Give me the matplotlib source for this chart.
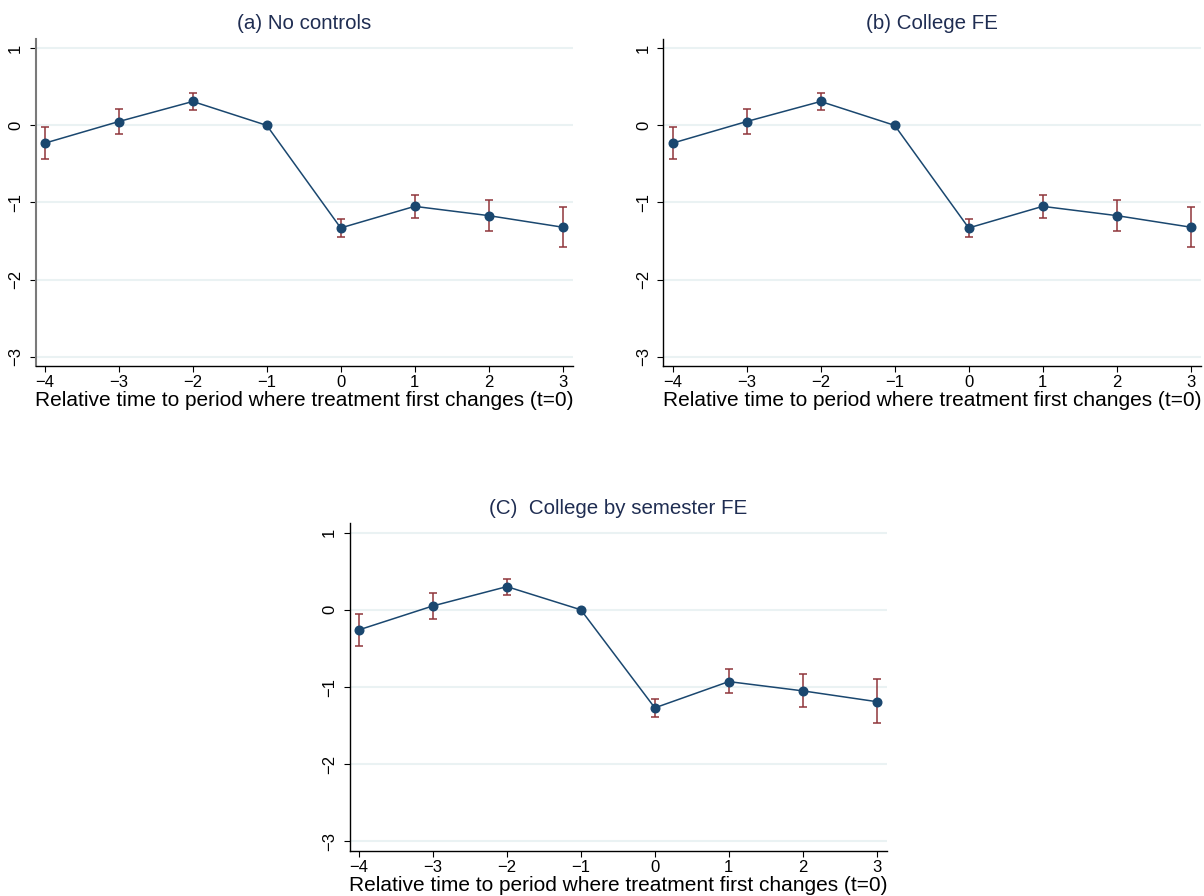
import matplotlib
matplotlib.use("Agg")
import matplotlib.pyplot as plt
import numpy as np

plt.rcParams['font.family'] = ['Liberation Sans', 'DejaVu Sans']

# Data
periods = [-4, -3, -2, -1, 0, 1, 2, 3]
ytick_vals = [1, 0, -1, -2, -3]

titles = ["(a) No controls", "(b) College FE", "(C)  College by semester FE"]
xlabel = "Relative time to period where treatment first changes (t=0)"

coef_a = [-0.23, 0.05, 0.31, 0.00, -1.33, -1.05, -1.17, -1.32]
lo_a   = [-0.44, -0.11, 0.20, 0.00, -1.45, -1.20, -1.37, -1.58]
hi_a   = [-0.02, 0.21, 0.42, 0.00, -1.22, -0.90, -0.97, -1.06]

coef_b = [-0.23, 0.05, 0.31, 0.00, -1.33, -1.05, -1.17, -1.32]
lo_b   = [-0.44, -0.11, 0.20, 0.00, -1.45, -1.20, -1.37, -1.58]
hi_b   = [-0.02, 0.21, 0.42, 0.00, -1.22, -0.90, -0.97, -1.06]

coef_c = [-0.26, 0.05, 0.30, 0.00, -1.27, -0.93, -1.05, -1.19]
lo_c   = [-0.47, -0.12, 0.19, 0.00, -1.39, -1.08, -1.26, -1.46]
hi_c   = [-0.05, 0.22, 0.40, 0.00, -1.15, -0.77, -0.83, -0.90]

W, H = 1204, 896
fig = plt.figure(figsize=(W / 100, H / 100), dpi=100)

NAVY = '#1a476f'
RED = '#90353b'
GRID = '#eaf2f3'
TITLE_C = '#1f2d52'

# axes boxes in pixel coords: left, right, top, bottom
boxes = [
    (35.7, 572.5, 39.0, 366.0),
    (663.4, 1200.7, 39.0, 366.0),
    (349.7, 886.7, 523.3, 850.7),
]
datasets = [(coef_a, lo_a, hi_a), (coef_b, lo_b, hi_b), (coef_c, lo_c, hi_c)]
spine_cols = ['#7a7a7a', 'black', 'black']

for i, ((l, r, t, b), (coef, lo, hi)) in enumerate(zip(boxes, datasets)):
    ax = fig.add_axes([l / W, 1 - b / H, (r - l) / W, (b - t) / H])
    x = np.array(periods)
    c = np.array(coef)
    yerr = np.vstack([c - np.array(lo), np.array(hi) - c])
    ax.errorbar(x, c, yerr=yerr, fmt='none', ecolor=RED, elinewidth=1.1,
                capsize=2.9, capthick=1.1, zorder=2)
    ax.plot(x, c, color=NAVY, lw=1.1, marker='o', ms=6.2,
            markerfacecolor=NAVY, markeredgecolor=NAVY, zorder=3)
    ax.set_xlim(-4.125, 3.135)
    ax.set_ylim(-3.12, 1.12)
    ax.set_xticks(periods)
    ax.set_xticklabels([str(p).replace('-', '\u2212') for p in periods])
    ax.set_yticks(ytick_vals)
    ax.set_yticklabels([str(v).replace('-', '\u2212') for v in ytick_vals],
                       rotation=90, va='center')
    ax.grid(axis='y', color=GRID, lw=1.5, zorder=0)
    ax.set_axisbelow(True)
    for s in ['top', 'right']:
        ax.spines[s].set_visible(False)
    ax.spines['left'].set_color(spine_cols[i])
    ax.spines['left'].set_linewidth(1.5 if i == 0 else 1.0)
    ax.spines['bottom'].set_color('black')
    ax.spines['bottom'].set_linewidth(1.0)
    ax.tick_params(axis='both', length=4, width=0.8, labelsize=12, colors='black')
    ax.tick_params(axis='y', pad=5)
    ax.tick_params(axis='x', pad=2.5)
    ax.set_xlabel(xlabel, fontsize=15, labelpad=1)
    ax.set_title(titles[i], fontsize=14.8, color=TITLE_C, pad=7)

fig.savefig('out.png', dpi=100)
